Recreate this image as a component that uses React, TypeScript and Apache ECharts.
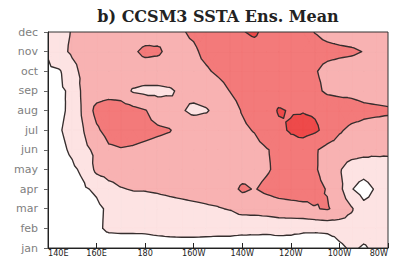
import React, { useEffect, useRef } from "react";
import * as echarts from "echarts";

// Longitude grid (degrees east) and month axis
const LONS = [140, 145, 150, 155, 160, 165, 170, 175, 180, 185, 190, 195, 200, 205, 210, 215, 220, 225, 230, 235, 240, 245, 250, 255, 260, 265, 270, 275, 280];
const MONTHS = ["jan", "feb", "mar", "apr", "may", "jun", "jul", "aug", "sep", "oct", "nov", "dec"];
const TITLE = "b) CCSM3 SSTA Ens. Mean";

// SSTA ensemble mean (contour units) per month, along LONS
const jan = [0.2, 0.2, 0.25, 0.3, 0.3, 0.3, 0.3, 0.3, 0.35, 0.4, 0.4, 0.4, 0.4, 0.4, 0.4, 0.4, 0.3, 0.4, 0.45, 0.4, 0.45, 0.2, 0.1, 0.2, 0.8, 1.15, 0.9, 1.2, 1.1];
const feb = [0.3, 0.35, 0.4, 0.5, 0.8, 1.2, 1.25, 1.25, 1.25, 1.35, 1.45, 1.5, 1.5, 1.45, 1.4, 1.4, 1.35, 1.3, 1.25, 1.35, 1.3, 1.25, 1.25, 1.3, 1.4, 1.6, 1.4, 1.35, 1.3];
const mar = [0.35, 0.4, 0.45, 0.55, 0.8, 1.15, 1.35, 1.5, 1.6, 1.65, 1.75, 1.8, 1.85, 1.9, 1.95, 2.05, 2.3, 2.35, 2.45, 2.55, 2.65, 2.75, 2.95, 3.08, 2.7, 2.1, 1.3, 1.35, 1.4];
const apr = [0.4, 0.5, 0.6, 0.9, 1.15, 1.7, 1.95, 2.05, 2.05, 2.1, 2.15, 2.2, 2.25, 2.3, 2.4, 2.7, 3.15, 2.95, 3.2, 3.4, 3.45, 3.45, 3.25, 2.95, 2.3, 1.05, 0.6, 1.1, 1.4];
const may = [0.5, 0.65, 0.85, 1.2, 2.25, 2.4, 2.45, 2.5, 2.5, 2.5, 2.45, 2.45, 2.45, 2.45, 2.5, 2.5, 2.6, 2.7, 2.9, 3.2, 3.45, 3.4, 3.1, 2.6, 2.1, 1.5, 1.4, 1.6, 1.7];
const jun = [0.6, 0.8, 1.15, 1.8, 2.2, 2.85, 2.95, 2.9, 2.8, 2.7, 2.6, 2.55, 2.5, 2.5, 2.5, 2.55, 2.6, 2.7, 2.95, 3.2, 3.6, 3.45, 3.1, 2.7, 2.6, 2.5, 2.35, 2.2, 2.15];
const jul = [0.7, 0.95, 1.3, 2.05, 2.85, 3.35, 3.4, 3.35, 3.25, 3.15, 3.05, 2.7, 2.8, 2.7, 2.65, 2.7, 2.85, 3.05, 3.5, 3.8, 4.1, 4.35, 4.15, 3.7, 3.1, 2.8, 2.75, 2.7, 2.7];
const aug = [0.65, 0.85, 1.2, 2.3, 3.3, 3.6, 3.5, 3.3, 3.05, 2.6, 2.45, 2.1, 1.75, 1.9, 2.3, 2.7, 3.05, 3.35, 3.55, 4.08, 3.94, 3.95, 3.88, 3.65, 3.58, 3.4, 3.2, 3.15, 3.1];
const sep = [0.7, 0.88, 1.15, 2.4, 2.5, 2.55, 2.5, 1.9, 1.75, 1.75, 1.85, 2.2, 2.4, 2.55, 2.75, 3.02, 3.25, 3.4, 3.5, 3.55, 3.55, 3.45, 3.2, 2.85, 2.75, 2.75, 2.7, 2.65, 2.6];
const oct = [0.85, 0.95, 1.7, 2.3, 2.45, 2.55, 2.6, 2.65, 2.65, 2.65, 2.7, 2.75, 2.82, 2.92, 3.1, 3.25, 3.35, 3.45, 3.5, 3.5, 3.45, 3.3, 3.05, 2.8, 2.7, 2.65, 2.6, 2.6, 2.6];
const nov = [1.08, 1.75, 2.15, 2.35, 2.5, 2.6, 2.7, 2.9, 3.15, 3.1, 2.85, 2.85, 2.9, 3.15, 3.3, 3.45, 3.55, 3.6, 3.55, 3.5, 3.4, 3.3, 3.25, 3.2, 3.15, 3.1, 2.98, 2.7, 2.6];
const dec = [1.5, 1.75, 2.05, 2.3, 2.4, 2.5, 2.55, 2.6, 2.65, 2.75, 2.85, 2.95, 3.1, 3.3, 3.45, 3.6, 3.95, 4.15, 3.7, 3.5, 3.35, 3.2, 2.98, 2.8, 2.7, 2.65, 2.6, 2.6, 2.6];

const SSTA = [jan, feb, mar, apr, may, jun, jul, aug, sep, oct, nov, dec];
const LEVELS = [1, 2, 3, 4];
const FILLS = ["#fde3e3", "#f8b2b2", "#f37a7a", "#ee4a4a"];
const LINE_COLOR = "#362e2e";

function lonLabel(v: number): string {
  if (v < 180) return v + "E";
  if (v === 180) return "180";
  return 360 - v + "W";
}

type P = { x: number; y: number; v: number };

function clipTri(tri: P[], t: number): P[] {
  const out: P[] = [];
  for (let k = 0; k < tri.length; k++) {
    const a = tri[k];
    const b = tri[(k + 1) % tri.length];
    const ain = a.v >= t;
    const bin = b.v >= t;
    if (ain) out.push(a);
    if (ain !== bin) {
      const f = (t - a.v) / (b.v - a.v);
      out.push({ x: a.x + f * (b.x - a.x), y: a.y + f * (b.y - a.y), v: t });
    }
  }
  return out;
}

function crossings(tri: P[], t: number): P[] {
  const out: P[] = [];
  for (let k = 0; k < 3; k++) {
    const a = tri[k];
    const b = tri[(k + 1) % 3];
    if (a.v >= t !== b.v >= t) {
      const f = (t - a.v) / (b.v - a.v);
      out.push({ x: a.x + f * (b.x - a.x), y: a.y + f * (b.y - a.y), v: t });
    }
  }
  return out;
}

function cellGeometry(i: number, j: number) {
  const c: P[] = [
    { x: LONS[i], y: j, v: SSTA[j][i] },
    { x: LONS[i + 1], y: j, v: SSTA[j][i + 1] },
    { x: LONS[i + 1], y: j + 1, v: SSTA[j + 1][i + 1] },
    { x: LONS[i], y: j + 1, v: SSTA[j + 1][i] },
  ];
  const ctr: P = {
    x: (LONS[i] + LONS[i + 1]) / 2,
    y: j + 0.5,
    v: (c[0].v + c[1].v + c[2].v + c[3].v) / 4,
  };
  const tris = [
    [c[0], c[1], ctr],
    [c[1], c[2], ctr],
    [c[2], c[3], ctr],
    [c[3], c[0], ctr],
  ];
  return { c, tris };
}

// Filled band (all cell pieces of one level in a single path -> no seams)
echarts.graphic.registerShape(
  "contourBand",
  echarts.graphic.extendShape({
    shape: { polys: [] as number[][][] },
    buildPath(ctx: any, shape: any) {
      for (const poly of shape.polys) {
        if (!poly.length) continue;
        ctx.moveTo(poly[0][0], poly[0][1]);
        for (let k = 1; k < poly.length; k++) ctx.lineTo(poly[k][0], poly[k][1]);
        ctx.closePath();
      }
    },
  }) as any
);

// Contour segments of one level in a single path
echarts.graphic.registerShape(
  "contourLines",
  echarts.graphic.extendShape({
    shape: { segs: [] as number[][][] },
    buildPath(ctx: any, shape: any) {
      for (const s of shape.segs) {
        ctx.moveTo(s[0][0], s[0][1]);
        ctx.lineTo(s[1][0], s[1][1]);
      }
    },
  }) as any
);

const LEVEL_DATA = LEVELS.map((t, k) => [LONS[0], k]);

export default function App() {
  const ref = useRef<HTMLDivElement>(null);
  useEffect(() => {
    if (!ref.current) return;
    const chart = echarts.init(ref.current, undefined, { renderer: "svg" });

    const fillItem = (params: any, api: any) => {
      const k = params.dataIndex;
      const t = LEVELS[k];
      const px = (p: P) => api.coord([p.x, p.y]);
      const polys: number[][][] = [];
      for (let j = 0; j < SSTA.length - 1; j++) {
        for (let i = 0; i < LONS.length - 1; i++) {
          const { c, tris } = cellGeometry(i, j);
          if (c.every((p) => p.v >= t)) {
            polys.push(c.map(px));
            continue;
          }
          if (!c.some((p) => p.v >= t)) continue;
          tris.forEach((tr) => {
            const q = clipTri(tr, t);
            if (q.length >= 3) polys.push(q.map(px));
          });
        }
      }
      return {
        type: "contourBand",
        silent: true,
        shape: { polys },
        style: { fill: FILLS[k], stroke: FILLS[k], lineWidth: 0.4 },
        z2: k,
      };
    };

    const lineItem = (params: any, api: any) => {
      const k = params.dataIndex;
      const t = LEVELS[k];
      const segs: number[][][] = [];
      for (let j = 0; j < SSTA.length - 1; j++) {
        for (let i = 0; i < LONS.length - 1; i++) {
          const { tris } = cellGeometry(i, j);
          tris.forEach((tr) => {
            const q = crossings(tr, t);
            if (q.length === 2) {
              segs.push([api.coord([q[0].x, q[0].y]), api.coord([q[1].x, q[1].y])]);
            }
          });
        }
      }
      return {
        type: "contourLines",
        silent: true,
        shape: { segs },
        style: { fill: "none", stroke: LINE_COLOR, lineWidth: 1.35, lineCap: "round", lineJoin: "round" },
      };
    };

    chart.setOption({
      animation: false,
      grid: {
        left: 48,
        right: 11,
        top: 32,
        bottom: 16,
        show: true,
        z: 10,
        backgroundColor: "transparent",
        borderColor: "#333",
        borderWidth: 1,
      },
      xAxis: {
        type: "value",
        min: 140,
        max: 280,
        interval: 20,
        z: 10,
        axisLine: { show: true, lineStyle: { color: "#222", width: 1 } },
        axisTick: { show: true, inside: true, length: 5, lineStyle: { color: "#222" } },
        axisLabel: {
          formatter: (v: number) => lonLabel(v),
          fontFamily: "'Liberation Sans Narrow', 'DejaVu Sans Condensed', sans-serif",
          fontSize: 9,
          color: "#222",
          margin: 0,
          alignMinLabel: "left",
          alignMaxLabel: "right",
        },
        splitLine: { show: false },
      },
      yAxis: {
        type: "value",
        min: 0,
        max: 11,
        interval: 1,
        z: 10,
        axisLine: { show: true, lineStyle: { color: "#222", width: 1 } },
        axisTick: { show: true, inside: false, length: 4, lineStyle: { color: "#666" } },
        axisLabel: {
          formatter: (v: number) => MONTHS[v] ?? "",
          fontFamily: "'DejaVu Sans', sans-serif",
          fontSize: 11,
          color: "#808080",
          margin: 10,
        },
        splitLine: { show: false },
      },
      graphic: [
        {
          type: "text",
          x: 218,
          y: 16,
          style: {
            text: TITLE,
            font: "bold 16px 'DejaVu Serif'",
            fill: "#222",
            align: "center",
            verticalAlign: "middle",
          },
        },
      ],
      series: [
        {
          type: "custom",
          coordinateSystem: "cartesian2d",
          data: LEVEL_DATA,
          renderItem: fillItem,
          clip: true,
          z: 2,
          silent: true,
        },
        {
          type: "custom",
          coordinateSystem: "cartesian2d",
          data: LEVEL_DATA,
          renderItem: lineItem,
          clip: true,
          z: 3,
          silent: true,
        },
      ],
    });
    return () => chart.dispose();
  }, []);
  return (
    <div
      ref={ref}
      style={{ position: "absolute", left: 0, top: 0, width: 399, height: 264 }}
    />
  );
}
